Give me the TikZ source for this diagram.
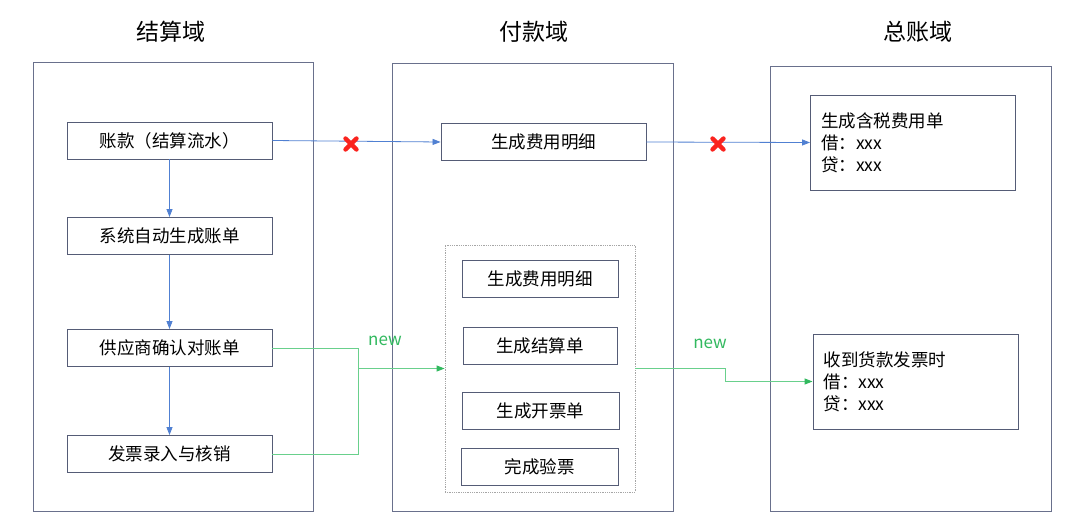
\documentclass[tikz,border=0pt]{standalone}
\usepackage{fontspec}
\setmainfont{Noto Sans CJK SC}
\usetikzlibrary{arrows.meta}
\definecolor{laneC}{RGB}{105,112,140}
\definecolor{boxC}{RGB}{85,92,118}
\definecolor{blueC}{RGB}{80,128,210}
\definecolor{greenL}{RGB}{105,208,140}
\definecolor{greenT}{RGB}{50,185,95}
\definecolor{redX}{RGB}{250,35,30}
\tikzset{
  lane/.style={draw=laneC, line width=0.9pt, inner sep=0pt},
  title/.style={font=\fontsize{23}{26}\selectfont, text=black},
  box/.style={draw=boxC, line width=0.9pt, inner sep=0pt, minimum height=37pt,
    font=\fontsize{17.5}{20}\selectfont},
  notebox/.style={draw=boxC, line width=0.9pt, inner sep=0pt, align=left,
    text width=184pt, minimum width=205pt, minimum height=95pt,
    font=\fontsize{17.5}{22}\selectfont},
  dotbox/.style={draw=gray!70, densely dotted, line width=0.8pt, inner sep=0pt},
  barrow/.style={draw=blueC, line width=0.8pt, -{Triangle[length=8pt,width=6pt]}},
  bline/.style={draw=blueC, line width=0.8pt},
  garrow/.style={draw=greenL, line width=1pt, -{Triangle[length=8pt,width=6pt,color=greenT]}},
  gline/.style={draw=greenL, line width=1pt},
  newlab/.style={text=greenT, font=\fontsize{17}{20}\selectfont},
  xmark/.style={draw=redX, line width=4.4pt, line cap=round}
}
\begin{document}
\begin{tikzpicture}[x=1pt,y=-1pt]
\useasboundingbox (0,0) rectangle (1080,528);
\fill[white] (0,0) rectangle (1080,528);
% lanes
\node[lane, minimum width=280pt, minimum height=449pt] (L) at (173,286.5) {};
\node[lane, minimum width=281pt, minimum height=448pt] (M) at (532.5,287) {};
\node[lane, minimum width=281pt, minimum height=445pt] (R) at (910.5,288.5) {};
% titles
\node[title] (tL) at (171,32) {结算域};
\node[title] (tM) at (534,32) {付款域};
\node[title] (tR) at (918,32) {总账域};
% left boxes
\node[box, minimum width=205pt] (a1) at (169.5,140.5) {账款（结算流水）};
\node[box, minimum width=205pt] (a2) at (169.5,236) {系统自动生成账单};
\node[box, minimum width=205pt] (a3) at (169.5,348) {供应商确认对账单};
\node[box, minimum width=205pt] (a4) at (169.5,454) {发票录入与核销};
% middle
\node[box, minimum width=205pt] (m1) at (543.5,142) {生成费用明细};
\node[dotbox, minimum width=190pt, minimum height=247pt] (D) at (540,368.5) {};
\node[box, minimum width=156pt] (d1) at (540,278.5) {生成费用明细};
\node[box, minimum width=154pt] (d2) at (540,345.5) {生成结算单};
\node[box, minimum width=157pt] (d3) at (540.5,410.5) {生成开票单};
\node[box, minimum width=157pt] (d4) at (539.5,467) {完成验票};
% right
\node[notebox] (r1) at (913,142.5) {生成含税费用单\\借：xxx\\贷：xxx};
\node[notebox] (r2) at (915.5,381.5) {收到货款发票时\\借：xxx\\贷：xxx};
% blue arrows
\draw[barrow] (a1.south) -- (a2.north);
\draw[barrow] (a2.south) -- (a3.north);
\draw[barrow] (a3.south) -- (a4.north);
\draw[barrow] (a1.east) -- (m1.west);
\draw[barrow] (m1.east) -- (r1.west);
% red crosses
\draw[xmark] (345.5,138.5) -- (356.5,149.5) (356.5,138.5) -- (345.5,149.5);
\draw[xmark] (712.5,138.5) -- (723.5,149.5) (723.5,138.5) -- (712.5,149.5);
% green connectors
\coordinate (gj) at (358,368.5);
\coordinate (gk) at (725,381.5);
\draw[gline] (a4.east) -| (gj);
\draw[garrow] (a3.east) -| (gj) -- (D.west);
\draw[garrow] (D.east) -| (gk) -- (r2.west);
\node[newlab] (n1) at (385,341) {new};
\node[newlab] (n2) at (710,344) {new};
\end{tikzpicture}
\end{document}
